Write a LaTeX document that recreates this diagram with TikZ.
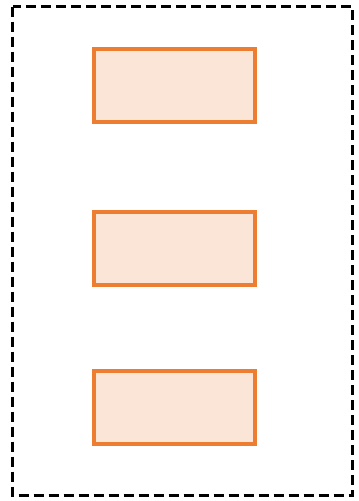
\documentclass[tikz,border=0pt]{standalone}
\definecolor{orangeline}{HTML}{ED7D31}
\definecolor{orangefill}{HTML}{FBE5D6}
\tikzset{
  frame/.style={draw=black, line width=2.6pt, dash pattern=on 10pt off 5pt},
  orbox/.style={draw=orangeline, fill=orangefill, line width=3.8pt, minimum width=161pt, minimum height=73pt, inner sep=0pt}
}
\begin{document}
\begin{tikzpicture}[x=1pt,y=-1pt]
\useasboundingbox (0,0) rectangle (359,501);
\coordinate (tl) at (12.5,6.5);
\coordinate (br) at (352.5,495.5);
\draw[frame] (tl) rectangle (br);
\node[orbox] (b1) at (174.5,85.5) {};
\node[orbox] (b2) at (174.5,248.5) {};
\node[orbox] (b3) at (174.5,407.5) {};
\end{tikzpicture}
\end{document}
